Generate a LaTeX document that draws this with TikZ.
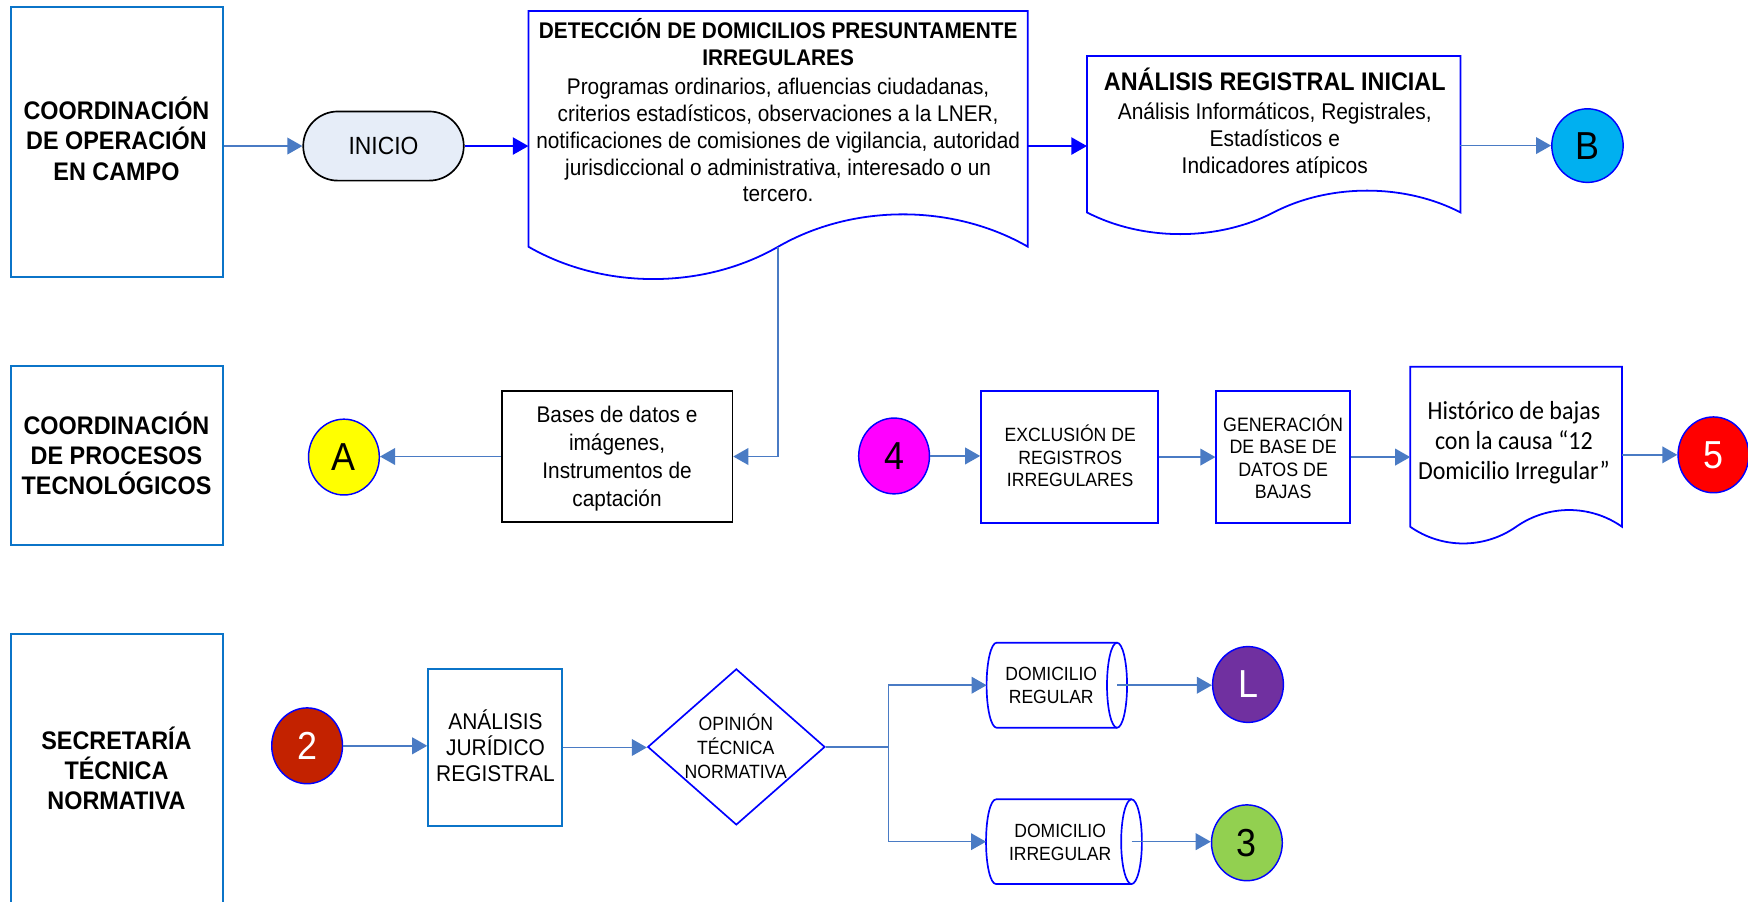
\documentclass[tikz,border=0pt]{standalone}
\usepackage{fontspec}
\setmainfont{Liberation Sans}[FakeStretch=0.92]
\newfontfamily\calibrifam{Carlito}[FakeStretch=0.92]
\usetikzlibrary{arrows.meta,shapes.geometric,shapes.misc}

\definecolor{lanecol}{HTML}{0B74C8}
\definecolor{linkcol}{HTML}{4A7BC4}
\definecolor{pureblue}{HTML}{0000FF}
\definecolor{startfill}{HTML}{E6EDF8}
\definecolor{fillA}{HTML}{FFFF00}
\definecolor{fillB}{HTML}{00B0F0}
\definecolor{fillFour}{HTML}{FF00FF}
\definecolor{fillFive}{HTML}{FF0000}
\definecolor{fillTwo}{HTML}{C32200}
\definecolor{fillL}{HTML}{7030A0}
\definecolor{fillThree}{HTML}{92D050}
\newcommand{\fsz}[2]{\fontsize{#1}{#2}\selectfont}

\begin{document}
\begin{tikzpicture}[x=1pt, y=-1pt,
  lanebox/.style={draw=lanecol, line width=1.8pt, inner sep=0pt},
  lanetext/.style={font=\fsz{22.8}{27}\bfseries, align=center, inner sep=0pt},
  textblock/.style={align=center, inner sep=0pt},
  outline/.style={draw=pureblue, line width=1.6pt, line join=miter},
  procbox/.style={draw=pureblue, line width=1.5pt, inner sep=0pt},
  anchorbox/.style={inner sep=0pt, outer sep=0pt},
  link/.style={draw=linkcol, line width=1.3pt, -{Triangle[length=13.5pt,width=15pt]}},
  plainlink/.style={draw=linkcol, line width=1.3pt},
  bluelink/.style={draw=pureblue, line width=1.4pt, -{Triangle[length=14pt,width=15.5pt]}},
  connector/.style={ellipse, draw=pureblue, line width=1.3pt, inner sep=0pt,
    minimum width=63.5pt, minimum height=68pt, font=\fsz{35}{38}},
]
\useasboundingbox (0,0) rectangle (1568,809);

% ---------- swimlane headers ----------
\node[lanebox, minimum width=190.6pt, minimum height=242.2pt] (lane1) at (104.9,127.1) {};
\node[lanebox, minimum width=190pt, minimum height=160.6pt] (lane2) at (105,408.6) {};
\node[lanebox, minimum width=190pt, minimum height=280pt] (lane3) at (105,709) {};
\node[lanetext] (lane1txt) at (104.5,124.5) {COORDINACIÓN\\DE OPERACIÓN\\EN CAMPO};
\node[lanetext] (lane2txt) at (104.5,407) {COORDINACIÓN\\DE PROCESOS\\TECNOLÓGICOS};
\node[lanetext] (lane3txt) at (104.5,689.5) {SECRETARÍA\\TÉCNICA\\NORMATIVA};

% ---------- first lane ----------
\node[rounded rectangle, draw=black, line width=1.5pt, fill=startfill,
  minimum width=144pt, minimum height=62pt, inner sep=0pt, font=\fsz{22.3}{26}] (inicio) at (344,131) {INICIO};

% detection document
\node[anchorbox, minimum width=448pt, minimum height=211.4pt] (doc1) at (698,115.6) {};
\draw[outline] (474,221.3) -- (474,9.9) -- (922,9.9) -- (922,221.3)
  .. controls (854.8,182.6) and (765.2,182.6) .. (698,221.3)
  .. controls (630.8,260) and (541.2,260) .. (474,221.3) -- cycle;
\node[textblock, font=\fsz{20.3}{24}] (doc1txt) at (698,99)
  {\textbf{DETECCIÓN DE DOMICILIOS PRESUNTAMENTE}\\\textbf{IRREGULARES}\\[2.5pt]Programas ordinarios, afluencias ciudadanas,\\criterios estadísticos, observaciones a la LNER,\\notificaciones de comisiones de vigilancia, autoridad\\jurisdiccional o administrativa, interesado o un\\tercero.};

% initial analysis document
\node[anchorbox, minimum width=335pt, minimum height=140.3pt] (doc2) at (1142.5,120.35) {};
\draw[outline] (975,190.5) -- (975,50.2) -- (1310,50.2) -- (1310,190.5)
  .. controls (1259.75,164.5) and (1192.75,164.5) .. (1142.5,190.5)
  .. controls (1092.25,216.5) and (1025.25,216.5) .. (975,190.5) -- cycle;
\node[textblock, font=\fsz{20.4}{24}] (doc2txt) at (1143.5,110.5)
  {\textbf{\fsz{22.8}{24}ANÁLISIS REGISTRAL INICIAL}\\[2pt]Análisis Informáticos, Registrales,\\Estadísticos e\\Indicadores atípicos};

\node[connector, fill=fillB, minimum width=64pt, minimum height=66pt] (nodeB) at (1424,130.6) {B};

\draw[link] (lane1.east |- inicio.west) -- (inicio.west);
\draw[bluelink] (inicio.east) -- (inicio.east -| doc1.west);
\draw[bluelink] (doc1.east |- inicio.east) -- (doc2.west |- inicio.east);
\draw[link] (doc2.east |- nodeB.west) -- (nodeB.west);

% ---------- second lane ----------
\node[draw=black, line width=1.5pt, minimum width=207pt, minimum height=117pt, inner sep=0pt] (bases) at (553.5,409.5) {};
\node[textblock, font=\fsz{20.3}{24.9}] (basestxt) at (553.5,411.5) {Bases de datos e\\imágenes,\\Instrumentos de\\captación};
\node[connector, fill=fillA] (nodeA) at (308.5,410) {A};
\coordinate (doc1tail) at (698,221.3);
\draw[link] (doc1tail) |- (bases.east);
\draw[link] (bases.west) -- (bases.west -| nodeA.east);

\node[connector, fill=fillFour] (nodeFour) at (802,409) {4};
\node[procbox, minimum width=159pt, minimum height=118pt] (excl) at (959.5,410) {};
\node[textblock, font=\fsz{17.2}{20.3}] (excltxt) at (960,408.9) {EXCLUSIÓN DE\\REGISTROS\\IRREGULARES};
\node[procbox, minimum width=120pt, minimum height=118pt] (gen) at (1151,410) {};
\node[textblock, font=\fsz{17.4}{20}] (gentxt) at (1151,409.6) {GENERACIÓN\\DE BASE DE\\DATOS DE\\BAJAS};

% record history document
\node[anchorbox, minimum width=190pt, minimum height=143.5pt] (doc3) at (1360,400.75) {};
\draw[outline] (1265,472.5) -- (1265,329) -- (1455,329) -- (1455,472.5)
  .. controls (1426.5,452.5) and (1388.5,452.5) .. (1360,472.5)
  .. controls (1331.5,492.5) and (1293.5,492.5) .. (1265,472.5) -- cycle;
\node[textblock, font=\calibrifam\fsz{23.4}{27}] (doc3txt) at (1358,397.4) {Histórico de bajas\\con la causa “12\\Domicilio Irregular”};
\node[connector, fill=fillFive, text=white] (nodeFive) at (1537,408) {5};

\draw[link] (nodeFour.east) -- (nodeFour.east -| excl.west);
\draw[link] (excl.east) -- (gen.west);
\draw[link] (gen.east) -- (gen.east -| doc3.west);
\draw[link] (nodeFive.west -| doc3.east) -- (nodeFive.west);

% ---------- third lane ----------
\node[connector, fill=fillTwo, text=white] (nodeTwo) at (275.5,669) {2};
\node[draw=lanecol, line width=1.5pt, minimum width=120pt, minimum height=141pt, inner sep=0pt] (ajr) at (444,670.5) {};
\node[textblock, font=\fsz{20.4}{23.5}] (ajrtxt) at (444.5,669.2) {ANÁLISIS\\JURÍDICO\\REGISTRAL};
\node[diamond, draw=pureblue, line width=1.5pt, minimum width=159pt, minimum height=140pt, inner sep=0pt] (opinion) at (660.5,670) {};
\node[textblock, font=\fsz{17.2}{21.7}] (opiniontxt) at (660,669.2) {OPINIÓN\\TÉCNICA\\NORMATIVA};

% storage shapes
\node[anchorbox, minimum width=126pt, minimum height=76.3pt] (cyl1) at (948,614.65) {};
\draw[outline, line width=1.5pt] (894,576.5) -- (1002,576.5) (1002,652.8) -- (894,652.8)
  .. controls (889.03,652.8) and (885,635.72) .. (885,614.65)
  .. controls (885,593.58) and (889.03,576.5) .. (894,576.5);
\draw[outline, line width=1.5pt] (1002,614.65) ellipse [x radius=9pt, y radius=38.15pt];
\node[textblock, font=\fsz{17.1}{20.5}] (cyl1txt) at (943,615) {DOMICILIO\\REGULAR};

\node[anchorbox, minimum width=139.8pt, minimum height=76pt] (cyl2) at (954.4,755) {};
\draw[outline, line width=1.5pt] (893.5,717) -- (1015,717) (1015,793) -- (893.5,793)
  .. controls (888.36,793) and (884.5,775.99) .. (884.5,755)
  .. controls (884.5,734.01) and (888.36,717) .. (893.5,717);
\draw[outline, line width=1.5pt] (1015,755) ellipse [x radius=9.3pt, y radius=38pt];
\node[textblock, font=\fsz{17.1}{20.5}] (cyl2txt) at (951,755.5) {DOMICILIO\\IRREGULAR};

\node[connector, fill=fillL, text=white] (nodeL) at (1119.5,614) {L};
\node[connector, fill=fillThree] (nodeThree) at (1118.5,756) {3};

\draw[link] (nodeTwo.east) -- (nodeTwo.east -| ajr.west);
\draw[link] (ajr.east) -- (ajr.east -| opinion.west);
\coordinate (split) at (797,670);
\draw[plainlink] (opinion.east) -- (split);
\draw[link] (split) |- (cyl1.west);
\draw[link] (split) |- (cyl2.west);
\coordinate (cyl1out) at (1002,614.65);
\coordinate (cyl2out) at (1015,755);
\draw[link] (cyl1out) -- (cyl1out -| nodeL.west);
\draw[link] (cyl2out) -- (cyl2out -| nodeThree.west);
\end{tikzpicture}
\end{document}
